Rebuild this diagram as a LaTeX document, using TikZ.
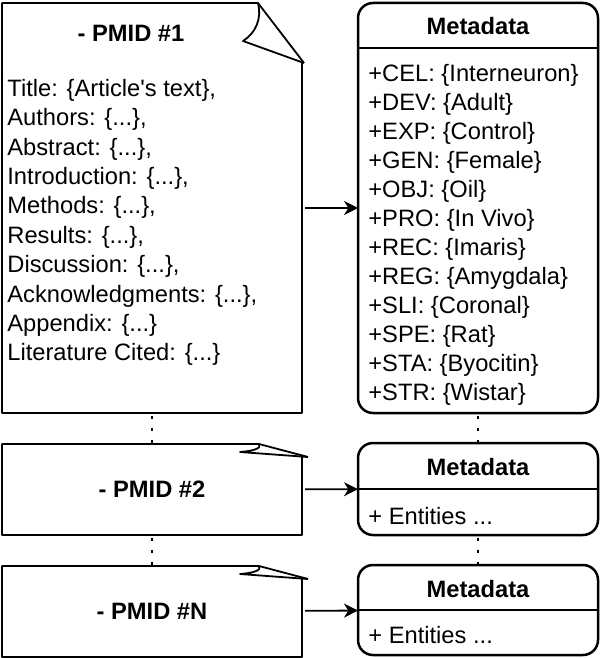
\documentclass[tikz,border=0pt]{standalone}
\usepackage{fontspec}
\setmainfont{Liberation Sans}
\usetikzlibrary{arrows.meta,positioning,calc}

\begin{document}
\begin{tikzpicture}[x=0.5pt, y=-0.5pt,
        every node/.style={font=\fontsize{11.85}{14.7}\selectfont},
        title/.style={font=\fontsize{11.85}{14.7}\selectfont\bfseries, inner sep=0pt},
        doc/.style={minimum width=150pt, inner sep=0pt, outer sep=0pt},
        meta/.style={draw, line width=1.25pt, rounded corners=7.5pt, minimum width=120pt, inner sep=0pt, outer sep=0pt},
        docline/.style={line width=0.9pt, line join=round},
        arr/.style={-{Stealth[length=7pt, width=7pt, inset=2.2pt]}, line width=0.9pt, shorten <=1.5pt},
        dots/.style={line width=1.4pt, dash pattern=on 1.5pt off 4.5pt, dash phase=4.75pt}]
        \useasboundingbox (0,0) rectangle (601,658);
        % Documents
        \node[doc, minimum height=205pt] (doc1) at (152,208) {};
        \node[doc, minimum height=45.5pt] (doc2) at (152,489.5) {};
        \node[doc, minimum height=45.5pt] (docN) at (152,611.5) {};
        \draw[docline] (302,63) -- (doc1.south east) -- (doc1.south west) -- (doc1.north west) -- (258,3) -- (304,63);
        \draw[docline] (258,3) .. controls (262,18) and (256,33) .. (243,41) -- (304,63);
        \draw[docline] (302,457) -- (doc2.south east) -- (doc2.south west) -- (doc2.north west) -- (259,444) -- (308,457);
        \draw[docline] (259,444) .. controls (262,448) and (254,451) .. (240,452) -- (308,457);
        \draw[docline] (302,579) -- (docN.south east) -- (docN.south west) -- (docN.north west) -- (259,566) -- (308,579);
        \draw[docline] (259,566) .. controls (262,570) and (254,573) .. (240,574) -- (308,579);
        % Document texts
        \node[title] (pmid1) at (131,33) {- PMID \#1};
        \node[anchor=west, align=left, inner sep=0pt] (sections) at (7,222.5) {Title: \{Article\textquotesingle s text\},\\
            Authors: \{...\},\\
            Abstract: \{...\},\\
            Introduction: \{...\},\\
            Methods: \{...\},\\
            Results: \{...\},\\
            Discussion: \{...\},\\
            Acknowledgments: \{...\},\\
            Appendix: \{...\}\\
            Literature Cited: \{...\}};
        \node[title] (pmid2) at (doc2) {- PMID \#2};
        \node[title] (pmidN) at (docN) {- PMID \#N};
        % Metadata
        \node[meta, minimum height=205pt] (meta1) at (478,208) {};
        \node[meta, minimum height=46pt] (meta2) at (478,489) {};
        \node[meta, minimum height=45pt] (meta3) at (478,610) {};
        \draw[line width=1.25pt] ($(meta1.north west)+(0,45)$) -- ($(meta1.north east)+(0,45)$);
        \draw[line width=1.25pt] (meta2.west) -- (meta2.east);
        \draw[line width=1.25pt] (meta3.west) -- (meta3.east);
        \node[title] (head1) at (478,26) {Metadata};
        \node[title] (head2) at (478,467) {Metadata};
        \node[title] (head3) at (478,589) {Metadata};
        \node[anchor=west, align=left, inner sep=0pt, font=\fontsize{11.85}{14.5}\selectfont] (entities1) at (368,234.5) {+CEL: \{Interneuron\}\\
            +DEV: \{Adult\}\\
            +EXP: \{Control\}\\
            +GEN: \{Female\}\\
            +OBJ: \{Oil\}\\
            +PRO: \{In Vivo\}\\
            +REC: \{Imaris\}\\
            +REG: \{Amygdala\}\\
            +SLI: \{Coronal\}\\
            +SPE: \{Rat\}\\
            +STA: \{Byocitin\}\\
            +STR: \{Wistar\}};
        \node[anchor=west, inner sep=0pt] (entities2) at (368,516) {+ Entities ...};
        \node[anchor=west, inner sep=0pt] (entities3) at (368,635) {+ Entities ...};
        % Arrows
        \draw[arr] (doc1) -- (meta1);
        \draw[arr] (doc2) -- (meta2);
        \draw[arr] (docN) -- (meta3);
        % Dotted links
        \draw[dots] (doc1) -- (doc2);
        \draw[dots] (doc2) -- (docN);
        \draw[dots] (meta1) -- (meta2);
        \draw[dots] (meta2) -- (meta3);
    \end{tikzpicture}
\end{document}
